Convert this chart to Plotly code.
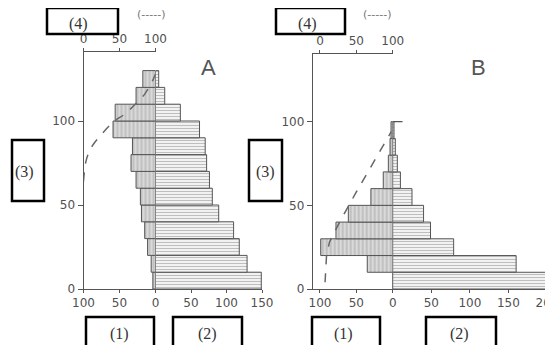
import plotly.graph_objects as go

# ---------------- data ----------------
age_mid_A = [5, 15, 25, 35, 45, 55, 65, 75, 85, 95, 105, 115, 125]
A_left = [3.7, 6, 11, 15, 19.5, 21, 27, 34, 32, 59, 56, 27, 17.6]      # (1)
A_right = [149, 129, 118, 110, 89, 80, 76, 72, 70, 62, 35, 13, 4.5]    # (2)
A_curve_pct = [0, 4, 12, 27, 43, 57, 72, 85, 96, 100]                 # (4) dashed
A_curve_age = [64, 77, 85, 93, 100, 104, 110, 116, 124, 128]

age_mid_B = [5, 15, 25, 35, 45, 55, 65, 75, 85, 95]
B_left = [0, 35, 99, 78, 61, 30, 13, 6, 3.7, 2.3]
B_right = [200, 160, 79, 49, 40, 25, 10, 6, 3.4, 1.7]
B_curve_pct = [7, 7.5, 9, 13, 27, 50, 75, 98]
B_curve_age = [4, 12, 20, 28, 40, 58, 77, 94]
B_mark_x = [0]
B_mark_y = [100]

left_ticks = [-100, -50, 0]
left_ticktext = ["100", "50", "0"]
A_right_ticks = [50, 100, 150]
B_right_ticks = [50, 100, 150, 200]
top_ticks = [0, 50, 100]
y_ticks = [0, 50, 100]

W, H = 553, 353
def px(x):
    return x / W
def py(y):
    return 1 - y / H

LINE = "#555555"
TXT = "#505050"
FONT = dict(family="DejaVu Sans", size=12, color=TXT)

fig = go.Figure()

left_pat = dict(shape="|", size=4, solidity=0.3, fgcolor="#8a8a8a", bgcolor="#d9d9d9")
right_pat = dict(shape="-", size=3, solidity=0.35, fgcolor="#8a8a8a", bgcolor="#f2f2f2")

fig.add_trace(go.Bar(y=age_mid_A, x=[-v for v in A_left], orientation="h", width=10,
                     xaxis="x", yaxis="y",
                     marker=dict(color="#d9d9d9", pattern=left_pat, line=dict(color="#555", width=1))))
fig.add_trace(go.Bar(y=age_mid_A, x=A_right, orientation="h", width=10,
                     xaxis="x2", yaxis="y",
                     marker=dict(color="#f2f2f2", pattern=right_pat, line=dict(color="#555", width=1))))
fig.add_trace(go.Scatter(x=A_curve_pct, y=A_curve_age, mode="lines", xaxis="x3", yaxis="y",
                         line=dict(color="#666", width=1.5, dash="dash", shape="spline")))

fig.add_trace(go.Bar(y=age_mid_B, x=[-v for v in B_left], orientation="h", width=10,
                     xaxis="x4", yaxis="y3",
                     marker=dict(color="#d9d9d9", pattern=left_pat, line=dict(color="#555", width=1))))
fig.add_trace(go.Bar(y=age_mid_B, x=B_right, orientation="h", width=10,
                     xaxis="x5", yaxis="y3",
                     marker=dict(color="#f2f2f2", pattern=right_pat, line=dict(color="#555", width=1))))
fig.add_trace(go.Scatter(x=B_curve_pct, y=B_curve_age, mode="lines", xaxis="x6", yaxis="y3",
                         line=dict(color="#666", width=1.5, dash="dash")))
fig.add_trace(go.Scatter(x=B_mark_x, y=B_mark_y, mode="markers", xaxis="x5", yaxis="y3",
                         marker=dict(symbol="line-ew", size=14, line=dict(color="#555", width=1.2))))

ax_common = dict(showline=True, linecolor=LINE, linewidth=1, ticks="outside", ticklen=3,
                 tickcolor=LINE, showgrid=False, zeroline=False, tickfont=FONT,
                 fixedrange=True, ticklabeloverflow="allow")

# Panel A
xA_l, xA_c, xA_r = 83.5, 155.5, 262
fig.update_layout(
    xaxis=dict(domain=[px(xA_l), px(xA_c)], range=[-100, 0], anchor="y",
               tickvals=left_ticks, ticktext=left_ticktext, **ax_common),
    xaxis2=dict(domain=[px(xA_c), px(xA_r)], range=[0, 150], anchor="y",
                tickvals=A_right_ticks, **ax_common),
    xaxis3=dict(domain=[px(xA_l), px(xA_c)], range=[0, 100], anchor="y", side="top",
                tickvals=top_ticks, **ax_common),
    yaxis=dict(domain=[py(289), py(52)], range=[0, (289 - 52) / 1.68], anchor="x",
               tickvals=y_ticks, **{**ax_common, "ticklen": 5}),
    yaxis2=dict(overlaying="y", anchor="x2", range=[0, (289 - 52) / 1.68], showline=True,
                linecolor=LINE, showticklabels=False, ticks="", showgrid=False, zeroline=False),
)

# Panel B
xB_l, xB_c, xB_r = 312.7, 392.7, 547
fig.update_layout(
    xaxis4=dict(domain=[px(xB_l), px(xB_c)], range=[-110, 0], anchor="y3",
                tickvals=left_ticks, ticktext=left_ticktext, **ax_common),
    xaxis5=dict(domain=[px(xB_c), px(xB_r)], range=[0, 200], anchor="y3",
                tickvals=B_right_ticks, **ax_common),
    xaxis6=dict(domain=[px(xB_l), px(xB_c)], range=[-10, 100], anchor="y3", side="top",
                tickvals=top_ticks, **ax_common),
    yaxis3=dict(domain=[py(289), py(54)], range=[0, (289 - 54) / 1.673], anchor="x4",
                tickvals=y_ticks, **{**ax_common, "ticklen": 5}),
    yaxis4=dict(overlaying="y3", anchor="x5", range=[0, (289 - 54) / 1.673], showline=True,
                linecolor=LINE, showticklabels=False, ticks="", showgrid=False, zeroline=False),
)

# boxes
boxes = [(47, 118, 8, 34), (12, 44, 140, 201), (86, 154, 317, 349), (173, 242, 317, 349),
         (276, 345, 8, 34), (249, 282, 140, 201), (312, 380, 317, 349), (426, 496, 317, 349)]
shapes = []
for x0, x1, y0, y1 in boxes:
    shapes.append(dict(type="rect", xref="paper", yref="paper", x0=px(x0), x1=px(x1),
                       y0=py(y1), y1=py(y0), line=dict(color="black", width=2.5)))

SERIF = dict(family="Liberation Serif", size=16, color="#333")
labels = [("(4)", 78, 24), ("(3)", 24, 172), ("(1)", 119, 334), ("(2)", 207, 334),
          ("(4)", 307, 24), ("(3)", 265, 172), ("(1)", 343, 334), ("(2)", 459, 334)]
annots = []
for t, x, y in labels:
    annots.append(dict(text=t, x=px(x), y=py(y), xref="paper", yref="paper",
                       showarrow=False, xanchor="center", yanchor="middle", font=SERIF))
for x in (151, 377):
    annots.append(dict(text="(-----)", x=px(x), y=py(15), xref="paper", yref="paper",
                       showarrow=False, xanchor="center", yanchor="middle",
                       font=dict(family="DejaVu Sans", size=11, color="#777")))
for t, x in (("A", 208), ("B", 478)):
    annots.append(dict(text=t, x=px(x), y=py(68), xref="paper", yref="paper",
                       showarrow=False, xanchor="center", yanchor="middle",
                       font=dict(family="Liberation Sans", size=22, color="#555")))

fig.update_layout(autosize=True, margin=dict(l=0, r=0, t=0, b=0, autoexpand=False),
                  paper_bgcolor="white", plot_bgcolor="rgba(0,0,0,0)", showlegend=False,
                  barmode="overlay", shapes=shapes, annotations=annots)

fig.write_html("out.html", config={"displayModeBar": False},
               default_width="553px;margin:-8px", default_height="353px")
